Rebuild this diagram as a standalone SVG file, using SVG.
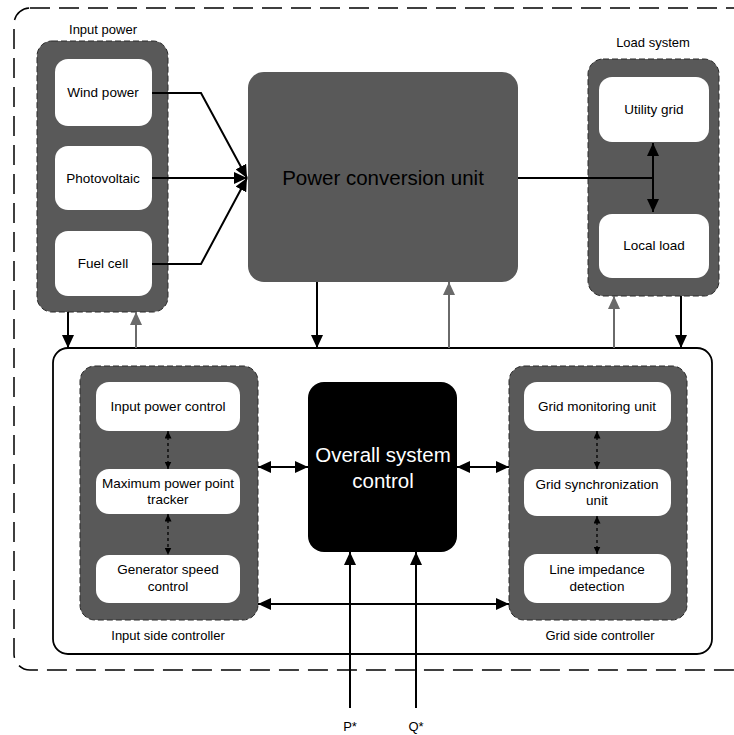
<svg xmlns="http://www.w3.org/2000/svg" width="734" height="735" viewBox="0 0 734 735">
<style>
text{font-family:"Liberation Sans",Arial,sans-serif;fill:#000;text-anchor:middle}
.grp{fill:#595959;stroke:#2a2a2a;stroke-width:1;stroke-dasharray:6 3}
.wb{fill:#fff;stroke:none}
.lbl{font-size:13.5px}
.cap{font-size:13px}
.k{stroke:#000;stroke-width:2;fill:none}
.g{stroke:#6a6a6a;stroke-width:2;fill:none}
.d{stroke:#000;stroke-width:1.3;fill:none;stroke-dasharray:3 3}
</style>
<defs>
<marker id="ah" markerUnits="userSpaceOnUse" markerWidth="14" markerHeight="12" refX="13" refY="6" orient="auto-start-reverse"><path d="M0,0 L13,6 L0,12 Z" fill="#000"/></marker>
<marker id="ahg" markerUnits="userSpaceOnUse" markerWidth="14" markerHeight="12" refX="13" refY="6" orient="auto-start-reverse"><path d="M0,0 L13,6 L0,12 Z" fill="#6a6a6a"/></marker>
<marker id="ahs" markerUnits="userSpaceOnUse" markerWidth="8" markerHeight="7" refX="7.5" refY="3.5" orient="auto-start-reverse"><path d="M0,0 L7.5,3.5 L0,7 Z" fill="#000"/></marker>
</defs>

<rect x="14" y="8" width="740" height="662" rx="16" fill="none" stroke="#000" stroke-width="1.5" stroke-dasharray="20 9"/>

<g id="input-power">
<text class="cap" x="103" y="34">Input power</text>
<rect class="grp" x="37" y="41" width="131" height="271" rx="15"/>
</g>
<g id="wind-power"><rect class="wb" x="55" y="59" width="97" height="67" rx="13"/><text class="lbl" x="103" y="97">Wind power</text></g>
<g id="photovoltaic"><rect class="wb" x="55" y="146" width="97" height="64" rx="13"/><text class="lbl" x="103" y="183">Photovoltaic</text></g>
<g id="fuel-cell"><rect class="wb" x="55" y="231" width="97" height="65" rx="13"/><text class="lbl" x="103" y="268">Fuel cell</text></g>

<g id="power-conversion-unit">
<rect x="248" y="72" width="270" height="210" rx="16" fill="#595959"/>
<text x="383" y="185" font-size="20.5">Power conversion unit</text>
</g>

<g id="load-system">
<text class="cap" x="653" y="47">Load system</text>
<rect class="grp" x="588" y="59" width="131" height="237" rx="15"/>
</g>
<g id="utility-grid"><rect class="wb" x="599" y="77" width="110" height="65" rx="13"/><text class="lbl" x="654" y="114">Utility grid</text></g>
<g id="local-load"><rect class="wb" x="599" y="214" width="110" height="64" rx="13"/><text class="lbl" x="654" y="250">Local load</text></g>

<g id="controller">
<rect x="53" y="348" width="659" height="306" rx="15" fill="#fff" stroke="#000" stroke-width="1.8"/>
</g>

<g id="input-side-controller">
<rect class="grp" x="80" y="366" width="178" height="254" rx="15"/>
<text class="cap" x="168" y="640">Input side controller</text>
</g>
<g id="input-power-control"><rect class="wb" x="96" y="382" width="144" height="49" rx="13"/><text class="lbl" x="168" y="411">Input power control</text></g>
<g id="mppt"><rect class="wb" x="96" y="469" width="144" height="45" rx="13"/><text class="lbl" x="168" y="488">Maximum power point</text><text class="lbl" x="168" y="504">tracker</text></g>
<g id="generator-speed-control"><rect class="wb" x="96" y="555" width="144" height="48" rx="13"/><text class="lbl" x="168" y="574">Generator speed</text><text class="lbl" x="168" y="591">control</text></g>

<g id="overall-system-control">
<rect x="308" y="382" width="149" height="170" rx="16" fill="#000"/>
<text x="383" y="462" font-size="20.5" style="fill:#fff">Overall system</text>
<text x="383" y="488" font-size="20.5" style="fill:#fff">control</text>
</g>

<g id="grid-side-controller">
<rect class="grp" x="509" y="366" width="178" height="254" rx="15"/>
<text class="cap" x="600" y="640">Grid side controller</text>
</g>
<g id="grid-monitoring-unit"><rect class="wb" x="524" y="382" width="147" height="49" rx="13"/><text class="lbl" x="597" y="411">Grid monitoring unit</text></g>
<g id="grid-synchronization-unit"><rect class="wb" x="524" y="469" width="147" height="47" rx="13"/><text class="lbl" x="597" y="489">Grid synchronization</text><text class="lbl" x="597" y="505">unit</text></g>
<g id="line-impedance-detection"><rect class="wb" x="524" y="554" width="147" height="49" rx="13"/><text class="lbl" x="597" y="574">Line impedance</text><text class="lbl" x="597" y="591">detection</text></g>

<g id="signals">
<text class="cap" x="350" y="731">P*</text>
<text class="cap" x="416" y="731">Q*</text>
</g>

<g id="connectors">
<path class="k" d="M152,93 H201 L247,178" marker-end="url(#ah)"/>
<path class="k" d="M152,178 H247" marker-end="url(#ah)"/>
<path class="k" d="M152,264 H201 L247,178" marker-end="url(#ah)"/>
<path class="k" d="M518,178 H653" style="stroke-width:1.8"/>
<path class="k" d="M653,143 V212" marker-start="url(#ah)" marker-end="url(#ah)"/>
<path class="k" d="M68,312 V348" marker-end="url(#ah)"/>
<path class="g" d="M136,348 V312" marker-end="url(#ahg)"/>
<path class="k" d="M317,282 V348" marker-end="url(#ah)"/>
<path class="g" d="M449,348 V282" marker-end="url(#ahg)"/>
<path class="g" d="M614,348 V296" marker-end="url(#ahg)"/>
<path class="k" d="M681,296 V348" marker-end="url(#ah)"/>
<path class="k" d="M258,467 H308" marker-start="url(#ah)" marker-end="url(#ah)"/>
<path class="k" d="M457,467 H509" marker-start="url(#ah)" marker-end="url(#ah)"/>
<path class="k" d="M258,604 H509" marker-start="url(#ah)" marker-end="url(#ah)"/>
<path class="k" d="M350,708 V552" marker-end="url(#ah)"/>
<path class="k" d="M416,708 V552" marker-end="url(#ah)"/>
<path class="d" d="M168,431 V469" marker-start="url(#ahs)" marker-end="url(#ahs)"/>
<path class="d" d="M168,514 V555" marker-start="url(#ahs)" marker-end="url(#ahs)"/>
<path class="d" d="M597,431 V469" marker-start="url(#ahs)" marker-end="url(#ahs)"/>
<path class="d" d="M597,516 V554" marker-start="url(#ahs)" marker-end="url(#ahs)"/>
</g>
</svg>
